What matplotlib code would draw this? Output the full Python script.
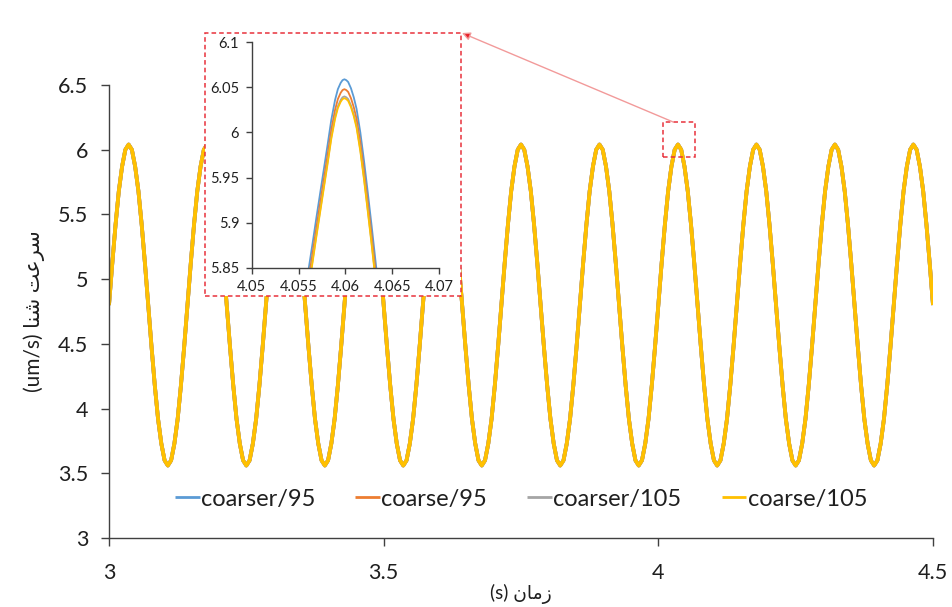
import numpy as np
import matplotlib
matplotlib.use("Agg")
import matplotlib.pyplot as plt
from matplotlib.patches import Rectangle
from matplotlib.ticker import FuncFormatter

plt.rcParams['font.family'] = ['Lato', 'DejaVu Sans']

# series names and colours (Excel default palette)
names = ["coarser/95", "coarse/95", "coarser/105", "coarse/105"]
colors = ["#5B9BD5", "#ED7D31", "#A5A5A5", "#FFC000"]

# main view: sample times and swimming speed (um/s), the four runs overlap at this scale
time_main = np.linspace(3.0, 4.5, 253)
speed_main = [
    4.80, 5.12, 5.42, 5.68, 5.87, 6.00, 6.04, 6.00, 5.87, 5.68, 5.42, 5.12, 4.80, 4.48, 4.18, 3.92, 3.73, 3.60, 3.56, 3.60, 3.73, 3.92, 4.18, 4.48,
    4.80, 5.12, 5.42, 5.68, 5.87, 6.00, 6.04, 6.00, 5.87, 5.68, 5.42, 5.12, 4.80, 4.48, 4.18, 3.92, 3.73, 3.60, 3.56, 3.60, 3.73, 3.92, 4.18, 4.48,
    4.80, 5.12, 5.42, 5.68, 5.87, 6.00, 6.04, 6.00, 5.87, 5.68, 5.42, 5.12, 4.80, 4.48, 4.18, 3.92, 3.73, 3.60, 3.56, 3.60, 3.73, 3.92, 4.18, 4.48,
    4.80, 5.12, 5.42, 5.68, 5.87, 6.00, 6.04, 6.00, 5.87, 5.68, 5.42, 5.12, 4.80, 4.48, 4.18, 3.92, 3.73, 3.60, 3.56, 3.60, 3.73, 3.92, 4.18, 4.48,
    4.80, 5.12, 5.42, 5.68, 5.87, 6.00, 6.04, 6.00, 5.87, 5.68, 5.42, 5.12, 4.80, 4.48, 4.18, 3.92, 3.73, 3.60, 3.56, 3.60, 3.73, 3.92, 4.18, 4.48,
    4.80, 5.12, 5.42, 5.68, 5.87, 6.00, 6.04, 6.00, 5.87, 5.68, 5.42, 5.12, 4.80, 4.48, 4.18, 3.92, 3.73, 3.60, 3.56, 3.60, 3.73, 3.92, 4.18, 4.48,
    4.80, 5.12, 5.42, 5.68, 5.87, 6.00, 6.04, 6.00, 5.87, 5.68, 5.42, 5.12, 4.80, 4.48, 4.18, 3.92, 3.73, 3.60, 3.56, 3.60, 3.73, 3.92, 4.18, 4.48,
    4.80, 5.12, 5.42, 5.68, 5.87, 6.00, 6.04, 6.00, 5.87, 5.68, 5.42, 5.12, 4.80, 4.48, 4.18, 3.92, 3.73, 3.60, 3.56, 3.60, 3.73, 3.92, 4.18, 4.48,
    4.80, 5.12, 5.42, 5.68, 5.87, 6.00, 6.04, 6.00, 5.87, 5.68, 5.42, 5.12, 4.80, 4.48, 4.18, 3.92, 3.73, 3.60, 3.56, 3.60, 3.73, 3.92, 4.18, 4.48,
    4.80, 5.12, 5.42, 5.68, 5.87, 6.00, 6.04, 6.00, 5.87, 5.68, 5.42, 5.12, 4.80, 4.48, 4.18, 3.92, 3.73, 3.60, 3.56, 3.60, 3.73, 3.92, 4.18, 4.48,
    4.80, 5.12, 5.42, 5.68, 5.87, 6.00, 6.04, 6.00, 5.87, 5.68, 5.42, 5.12, 4.80,
]

# zoomed peak near t = 4.06
time_inset = [4.0561, 4.0565, 4.0569, 4.0573, 4.0577, 4.0581, 4.0585, 4.0589,
              4.0592, 4.0595, 4.0597, 4.0599, 4.0601, 4.0603, 4.0606, 4.0609,
              4.0612, 4.0616, 4.0620, 4.0624, 4.0628, 4.0633]
speed_coarser95 = [5.850, 5.877, 5.905, 5.932, 5.959, 5.986, 6.014, 6.036,
                   6.048, 6.055, 6.058, 6.059, 6.058, 6.056, 6.049, 6.039,
                   6.026, 6.000, 5.968, 5.933, 5.897, 5.850]
speed_coarse95 = [5.839, 5.866, 5.894, 5.921, 5.948, 5.975, 6.003, 6.025,
                  6.037, 6.044, 6.047, 6.048, 6.047, 6.045, 6.038, 6.028,
                  6.015, 5.989, 5.957, 5.922, 5.886, 5.839]
speed_coarser105 = [5.831, 5.858, 5.886, 5.913, 5.940, 5.967, 5.995, 6.017,
                    6.029, 6.036, 6.039, 6.040, 6.039, 6.037, 6.030, 6.020,
                    6.007, 5.981, 5.949, 5.914, 5.878, 5.831]
speed_coarse105 = [5.829, 5.856, 5.884, 5.911, 5.938, 5.965, 5.993, 6.015,
                   6.027, 6.034, 6.037, 6.038, 6.037, 6.035, 6.028, 6.018,
                   6.005, 5.979, 5.947, 5.912, 5.876, 5.829]
inset_series = [speed_coarser95, speed_coarse95, speed_coarser105, speed_coarse105]

x_ticks = [3, 3.5, 4, 4.5]
y_ticks = [3, 3.5, 4, 4.5, 5, 5.5, 6, 6.5]
inset_x_ticks = [4.05, 4.055, 4.06, 4.065, 4.07]
inset_y_ticks = [5.85, 5.9, 5.95, 6, 6.05, 6.1]
zoom_box = (4.0086, 5.944, 0.0582, 0.270)  # region marked on the main plot

axis_col = "#404040"
text_col = "#1f1f1f"
red = "#E8323C"
fmt = FuncFormatter(lambda v, p: "%g" % v)

W, H = 952, 607
fig = plt.figure(figsize=(W / 100, H / 100), dpi=100)
ax = fig.add_axes([109 / W, 1 - 538 / H, 824 / W, 453 / H])

for name, c in zip(names, colors):
    ax.plot(time_main, speed_main, color=c, lw=2.7, label=name, solid_capstyle="butt")

ax.set_xlim(3, 4.5)
ax.set_ylim(3, 6.5)
ax.set_xticks(x_ticks)
ax.set_yticks(y_ticks)
ax.xaxis.set_major_formatter(fmt)
ax.yaxis.set_major_formatter(fmt)
for s in ["top", "right"]:
    ax.spines[s].set_visible(False)
for s in ["left", "bottom"]:
    ax.spines[s].set_color(axis_col)
    ax.spines[s].set_linewidth(1.0)
ax.tick_params(axis="both", direction="out", length=6, width=1.0, color=axis_col,
               labelsize=15.5, labelcolor=text_col)
ax.tick_params(axis="x", pad=12)
ax.tick_params(axis="y", pad=9)

ax.set_ylabel("(um/s) \ufe8e\ufee8\ufeb7 \ufe96\ufecb\ufeae\ufeb3", fontsize=15,
              color=text_col, family=["Lato", "DejaVu Sans"], labelpad=9)
ax.set_xlabel("(s) \ufee5\ufe8e\ufee3\ufeaf", fontsize=13.5, color=text_col,
              family=["Lato", "DejaVu Sans"], labelpad=1)

leg = ax.legend(loc="center", bbox_to_anchor=(0.5, 0.086), ncol=4, frameon=False,
                fontsize=17, handlelength=1.05, handletextpad=0.05, columnspacing=1.7)
for ln in leg.get_lines():
    ln.set_linewidth(2.0)
for t in leg.get_texts():
    t.set_color(text_col)

# white panel with dashed red border behind the inset
panel = Rectangle((205 / W, 1 - 296 / H), 256 / W, 263 / H, transform=fig.transFigure,
                  facecolor="white", edgecolor=red, ls=(0, (3, 2)), lw=1.1,
                  clip_on=False, zorder=10)
ax.add_patch(panel)

# small dashed box around the zoomed peak
box = Rectangle(zoom_box[:2], zoom_box[2], zoom_box[3], facecolor="none", edgecolor=red,
                ls=(0, (3, 2)), lw=1.1, zorder=11)
ax.add_patch(box)

ax.annotate("", xy=(462 / W, 1 - 33 / H), xycoords="figure fraction",
            xytext=(4.027, zoom_box[1] + zoom_box[3]), textcoords="data",
            arrowprops=dict(arrowstyle="-|>", mutation_scale=12, lw=1.0,
                            ec="#F29A9A", fc="#E8202A", shrinkA=0, shrinkB=0),
            zorder=12, annotation_clip=False)

# inset
axi = fig.add_axes([251.7 / W, 1 - 267.7 / H, 187.3 / W, 225.4 / H])
axi.set_facecolor("white")
for name, c, vals in zip(names, colors, inset_series):
    axi.plot(time_inset, vals, color=c, lw=1.3)
axi.set_xlim(4.05, 4.07)
axi.set_ylim(5.85, 6.1)
axi.set_xticks(inset_x_ticks)
axi.set_yticks(inset_y_ticks)
axi.xaxis.set_major_formatter(fmt)
axi.yaxis.set_major_formatter(fmt)
for s in ["top", "right"]:
    axi.spines[s].set_visible(False)
for s in ["left", "bottom"]:
    axi.spines[s].set_color(axis_col)
    axi.spines[s].set_linewidth(1.0)
axi.tick_params(axis="both", direction="out", length=4, width=1.0, color=axis_col,
                labelsize=10.5, labelcolor=text_col, pad=5)

fig.savefig("out.png", dpi=100, facecolor="white")
